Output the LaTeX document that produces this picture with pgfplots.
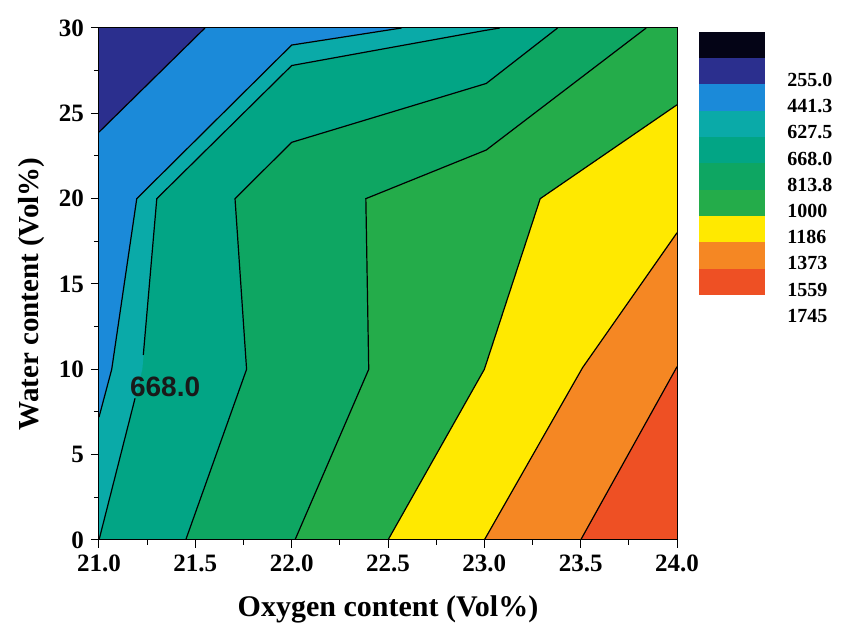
\documentclass[border=0pt]{standalone}
\usepackage{fontspec}
\setmainfont{Liberation Serif}
\setsansfont{Liberation Sans}
\usepackage{pgfplots}
\pgfplotsset{compat=1.18}

% contour band colours, low to high
\definecolor{cblack}{RGB}{4,4,22}
\definecolor{cnavy}{RGB}{43,47,142}
\definecolor{cblue}{RGB}{27,138,217}
\definecolor{cteal}{RGB}{10,170,168}
\definecolor{ctealgreen}{RGB}{2,165,133}
\definecolor{cgreenA}{RGB}{14,166,98}
\definecolor{cgreenB}{RGB}{36,172,74}
\definecolor{cyellow}{RGB}{255,233,0}
\definecolor{corange}{RGB}{245,135,35}
\definecolor{cred}{RGB}{238,80,36}

\begin{document}
\begin{tikzpicture}
\path (0,0) rectangle (421pt,313pt);

\begin{axis}[
  at={(49.5pt,43pt)}, anchor=south west,
  scale only axis, width=289pt, height=256pt,
  xmin=21, xmax=24, ymin=0, ymax=30,
  axis on top,
  xtick={21,21.5,...,24}, ytick={0,5,...,30},
  minor x tick num=1, minor y tick num=1,
  xtick pos=bottom, ytick pos=left,
  tick align=outside,
  major tick length=4pt, minor tick length=2.5pt,
  every tick/.style={black, line width=0.5pt},
  axis line style={black, line width=0.5pt},
  /pgf/number format/assume math mode=true,
  tick label style={font=\fontsize{12.5}{12.5}\selectfont\bfseries},
  x tick label style={/pgf/number format/fixed,
    /pgf/number format/fixed zerofill,
    /pgf/number format/precision=1},
  every axis plot/.append style={mark=none},
]
% filled bands, stacked from the highest level down
\addplot[fill=cred, draw=none] coordinates {(21,0)(24,0)(24,30)(21,30)} -- cycle;
\addplot[fill=corange, draw=none] coordinates {(21,0)(23.5,0)(24,10.15)(24,30)(21,30)} -- cycle;
\addplot[fill=cyellow, draw=none] coordinates {(21,0)(23.0,0)(23.51,10.1)(24,18)(24,30)(21,30)} -- cycle;
\addplot[fill=cgreenB, draw=none] coordinates {(21,0)(22.5,0)(23.0,10)(23.29,20)(24,25.5)(24,30)(21,30)} -- cycle;
\addplot[fill=cgreenA, draw=none] coordinates {(21,0)(22.017,0)(22.40,10)(22.385,20)(23.01,22.85)(23.84,30)(21,30)} -- cycle;
\addplot[fill=ctealgreen, draw=none] coordinates {(21,0)(21.45,0)(21.766,10)(21.706,20)(22.0,23.3)(23.01,26.75)(23.38,30)(21,30)} -- cycle;
\addplot[fill=cteal, draw=none] coordinates {(21,0)(21.225,10)(21.3,20)(22.0,27.8)(23.0,29.85)(23.08,30)(21,30)} -- cycle;
\addplot[fill=cblue, draw=none] coordinates {(21,7.2)(21.066,10)(21.196,20)(22.0,29.0)(22.57,30)(21,30)} -- cycle;
\addplot[fill=cnavy, draw=none] coordinates {(21,23.9)(21.55,30)(21,30)} -- cycle;

% contour lines
\pgfplotsset{cline/.style={black, line width=0.6pt}}
\addplot[cline] coordinates {(21,23.9)(21.55,30)};
\addplot[cline] coordinates {(21,7.2)(21.066,10)(21.196,20)(22.0,29.0)(22.57,30)};
\addplot[cline] coordinates {(21,0)(21.187,8.3)};
\addplot[cline] coordinates {(21.23,10.84)(21.3,20)(22.0,27.8)(23.0,29.85)(23.08,30)};
\addplot[cline] coordinates {(21.45,0)(21.766,10)(21.706,20)(22.0,23.3)(23.01,26.75)(23.38,30)};
\addplot[cline] coordinates {(22.017,0)(22.40,10)(22.385,20)(23.01,22.85)(23.84,30)};
\addplot[cline] coordinates {(22.5,0)(23.0,10)(23.29,20)(24,25.5)};
\addplot[cline] coordinates {(23.0,0)(23.51,10.1)(24,18)};
\addplot[cline] coordinates {(23.5,0)(24,10.15)};

\node[font=\sffamily\bfseries\fontsize{14}{14}\selectfont, text=black!90, inner sep=0pt]
  at (axis cs:21.343,8.98) {668.0};
\end{axis}

% colour scale
\begin{axis}[
  at={(349.5pt,165.5pt)}, anchor=south west,
  scale only axis, width=33pt, height=131.65pt,
  xmin=0, xmax=1, ymin=0, ymax=10, hide axis,
  every axis plot/.append style={mark=none, draw=none},
]
\addplot[fill=cred] coordinates {(0,0)(1,0)(1,1)(0,1)} -- cycle;
\addplot[fill=corange] coordinates {(0,1)(1,1)(1,2)(0,2)} -- cycle;
\addplot[fill=cyellow] coordinates {(0,2)(1,2)(1,3)(0,3)} -- cycle;
\addplot[fill=cgreenB] coordinates {(0,3)(1,3)(1,4)(0,4)} -- cycle;
\addplot[fill=cgreenA] coordinates {(0,4)(1,4)(1,5)(0,5)} -- cycle;
\addplot[fill=ctealgreen] coordinates {(0,5)(1,5)(1,6)(0,6)} -- cycle;
\addplot[fill=cteal] coordinates {(0,6)(1,6)(1,7)(0,7)} -- cycle;
\addplot[fill=cblue] coordinates {(0,7)(1,7)(1,8)(0,8)} -- cycle;
\addplot[fill=cnavy] coordinates {(0,8)(1,8)(1,9)(0,9)} -- cycle;
\addplot[fill=cblack] coordinates {(0,9)(1,9)(1,10)(0,10)} -- cycle;
\end{axis}

% level values beside the colour scale
\begin{scope}[every node/.style={anchor=west, inner sep=0pt,
    font=\fontsize{10}{10}\selectfont\bfseries}]
\node at (393.5pt,273pt) {255.0};
\node at (393.5pt,259.9pt) {441.3};
\node at (393.5pt,246.8pt) {627.5};
\node at (393.5pt,233.7pt) {668.0};
\node at (393.5pt,220.6pt) {813.8};
\node at (393.5pt,207.5pt) {1000};
\node at (393.5pt,194.4pt) {1186};
\node at (393.5pt,181.3pt) {1373};
\node at (393.5pt,168.2pt) {1559};
\node at (393.5pt,155.1pt) {1745};
\end{scope}

% axis titles
\node[anchor=base, font=\fontsize{15}{15}\selectfont\bfseries, inner sep=0pt]
  at (194pt,4.5pt) {Oxygen content (Vol\%)};
\node[anchor=base, rotate=90, font=\fontsize{14.5}{14.5}\selectfont\bfseries, inner sep=0pt]
  at (19pt,166pt) {Water content (Vol\%)};
\end{tikzpicture}
\end{document}
